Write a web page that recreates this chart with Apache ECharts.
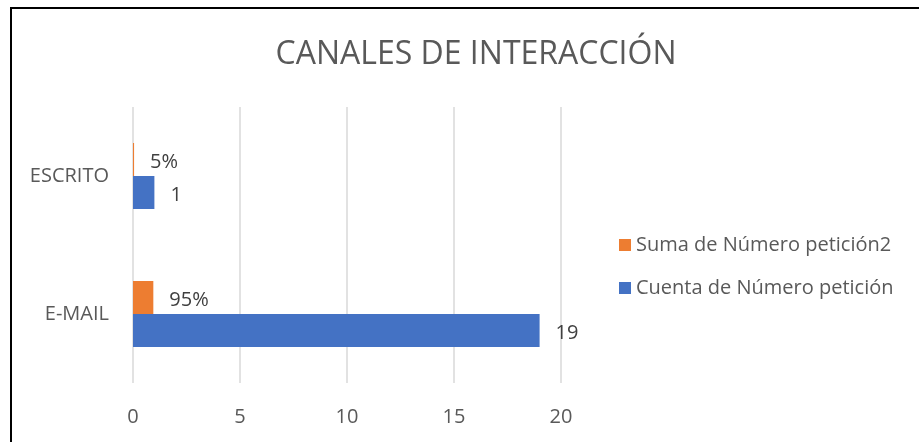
<!DOCTYPE html>
<html>
<head>
<meta charset="utf-8">
<script src="https://cdn.jsdelivr.net/npm/echarts@6/dist/echarts.min.js"></script>
<style>
  html, body { margin: 0; padding: 0; background: #fff; }
  #chart { width: 919px; height: 442px; }
</style>
</head>
<body>
<div id="chart"></div>
<script>
// datos del gráfico
const canales = ["E-MAIL", "ESCRITO"];
const cuenta = [19, 1];
const suma = [0.95, 0.05];
const xTicks = [0, 5, 10, 15, 20];

const gris = "#595959";
const fuente = "Open Sans";

const chart = echarts.init(document.getElementById("chart"));

chart.setOption({
	backgroundColor: "#fff",
	animation: false,
	textStyle: { fontFamily: fuente },
	title: {
		text: "CANALES DE INTERACCIÓN",
		left: 471,
		top: 34,
		textAlign: "center",
		textStyle: { color: gris, fontSize: 32, fontWeight: "normal", fontFamily: fuente }
	},
	// marco del gráfico (solo se ven los bordes izquierdo y superior)
	graphic: [{
		type: "polyline",
		shape: { points: [[11, 442], [11, 8], [919, 8]] },
		style: { stroke: "#000", lineWidth: 2, fill: null }
	}],
	legend: {
		orient: "vertical",
		left: 614,
		top: 230,
		itemWidth: 12,
		itemHeight: 12,
		itemGap: 23,
		icon: "rect",
		data: ["Suma de Número petición2", "Cuenta de Número petición"],
		textStyle: { color: gris, fontSize: 20, lineHeight: 20, fontFamily: fuente }
	},
	grid: { left: 133, right: 358, top: 107, bottom: 59 },
	xAxis: {
		type: "value",
		min: xTicks[0],
		max: xTicks[xTicks.length - 1],
		interval: 5,
		axisLine: { show: false },
		axisTick: { show: false },
		axisLabel: { color: gris, fontSize: 20, margin: 24 },
		splitLine: { lineStyle: { color: "#d9d9d9", width: 1.5 } }
	},
	yAxis: {
		type: "category",
		data: canales,
		axisLine: { show: false },
		axisTick: { show: false },
		axisLabel: { color: gris, fontSize: 20, margin: 24 }
	},
	series: [
		{
			name: "Suma de Número petición2",
			type: "bar",
			data: suma,
			barWidth: 33,
			barGap: "0%",
			itemStyle: { color: "#ED7D31" },
			label: {
				show: true,
				position: "right",
				distance: 16,
				offset: [0, 3],
				color: "#404040",
				fontSize: 20,
				formatter: (p) => Math.round(p.value * 100) + "%"
			}
		},
		{
			name: "Cuenta de Número petición",
			type: "bar",
			data: cuenta,
			barWidth: 33,
			barGap: "0%",
			itemStyle: { color: "#4472C4" },
			label: {
				show: true,
				position: "right",
				distance: 16,
				offset: [0, 3],
				color: "#404040",
				fontSize: 20
			}
		}
	]
});
</script>
</body>
</html>
